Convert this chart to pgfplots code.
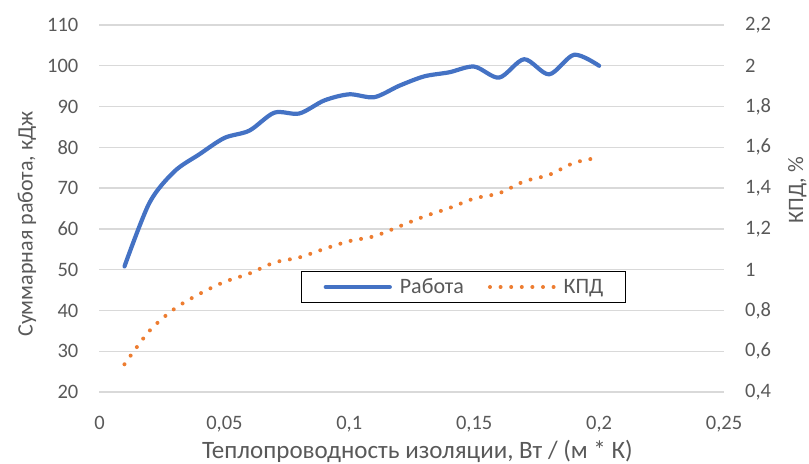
\documentclass[border=0pt]{standalone}
\usepackage{pgfplots}
\pgfplotsset{compat=1.18}
\usepackage{fontspec}
\setmainfont{Carlito}
\definecolor{txt}{RGB}{89,89,89}
\definecolor{grd}{RGB}{217,217,217}
\definecolor{cblue}{RGB}{68,114,196}
\definecolor{corange}{RGB}{237,125,49}
\pgfplotsset{
  common/.style={
    scale only axis, width=624.5pt, height=367pt,
    xmin=0, xmax=0.25,
    axis line style={draw=none},
    major tick length=0pt,
    tick label style={font=\fontsize{20.5}{24}\selectfont, text=txt, inner sep=0pt},
    label style={font=\fontsize{22}{26}\selectfont, text=txt, inner sep=0pt},
  },
  bluelegend/.style={legend image code/.code={\draw[##1] (0pt,0pt) -- (64pt,0pt);}},
  orangelegend/.style={legend image code/.code={\draw[##1] (0pt,0pt) -- (63.6pt,0pt);}},
}
\begin{document}
\begin{tikzpicture}
\begin{axis}[common, name=ax1,
  ymin=20, ymax=110,
  ytick={20,30,...,110},
  yticklabels={20,30,40,50,60,70,80,90,100,110},
  xtick={0,0.05,0.1,0.15,0.2,0.25},
  xticklabels={0,{0,05},{0,1},{0,15},{0,2},{0,25}},
  yticklabel style={anchor=east, xshift=-21pt},
  xticklabel style={anchor=north, yshift=-24pt},
  ymajorgrids, major grid style={grd, line width=1.3pt},
  xlabel={Теплопроводность изоляции, Вт / (м * К)},
  xlabel style={at={(axis description cs:0.509,-0.180)}, anchor=base, font=\fontsize{25}{28}\selectfont},
  ylabel={Суммарная работа, кДж},
  ylabel style={at={(axis description cs:-0.107,0.458)}, anchor=base},
]
\addplot[cblue, line width=4.2pt, smooth, line cap=round, line join=round] coordinates {
(0.01,50.8) (0.02,66.4) (0.03,74.1) (0.04,78.3) (0.05,82.3) (0.06,84.1)
(0.07,88.5) (0.08,88.3) (0.09,91.5) (0.10,93.0) (0.11,92.3) (0.12,95.1)
(0.13,97.4) (0.14,98.4) (0.15,99.8) (0.16,97.1) (0.17,101.6) (0.18,97.9)
(0.19,102.7) (0.20,100.0)
};
\end{axis}
\begin{axis}[common,
  ymin=0.4, ymax=2.2,
  axis y line*=right, hide x axis,
  ytick={0.4,0.6,0.8,1,1.2,1.4,1.6,1.8,2,2.2},
  yticklabels={{0,4},{0,6},{0,8},1,{1,2},{1,4},{1,6},{1,8},2,{2,2}},
  yticklabel style={anchor=west, xshift=21pt},
  ylabel={КПД, \%},
  ylabel style={at={(axis description cs:1.1265,0.550)}, anchor=base},
  legend columns=2,
  legend style={at={(axis description cs:0.5829,0.2861)}, anchor=center,
    draw=black, line width=1pt, fill=white,
    font=\fontsize{22}{26}\selectfont, text=txt,
    nodes={inner sep=0pt},
    inner xsep=22pt, inner ysep=7pt,
    /tikz/every odd column/.append style={column sep=8pt},
    /tikz/every even column/.append style={column sep=24pt}},
  legend cell align=left,
]
\addlegendimage{cblue, line width=4.2pt, line cap=round, bluelegend}
\addlegendentry{Работа}
\addplot[corange, line width=4pt, smooth, line cap=round, dash pattern=on 0pt off 10.6pt, orangelegend] coordinates {
(0.01,0.536) (0.02,0.70) (0.03,0.808) (0.04,0.881) (0.05,0.94) (0.06,0.981)
(0.07,1.035) (0.08,1.06) (0.09,1.102) (0.10,1.14) (0.11,1.164) (0.12,1.212)
(0.13,1.261) (0.14,1.302) (0.15,1.349) (0.16,1.375) (0.17,1.433) (0.18,1.465)
(0.19,1.524) (0.20,1.55)
};
\addlegendentry{КПД}
\end{axis}
\pgfresetboundingbox
\path[use as bounding box] ([xshift=-99.5pt,yshift=-72pt]ax1.south west) rectangle ([xshift=85pt,yshift=25pt]ax1.north east);
\end{tikzpicture}
\end{document}
